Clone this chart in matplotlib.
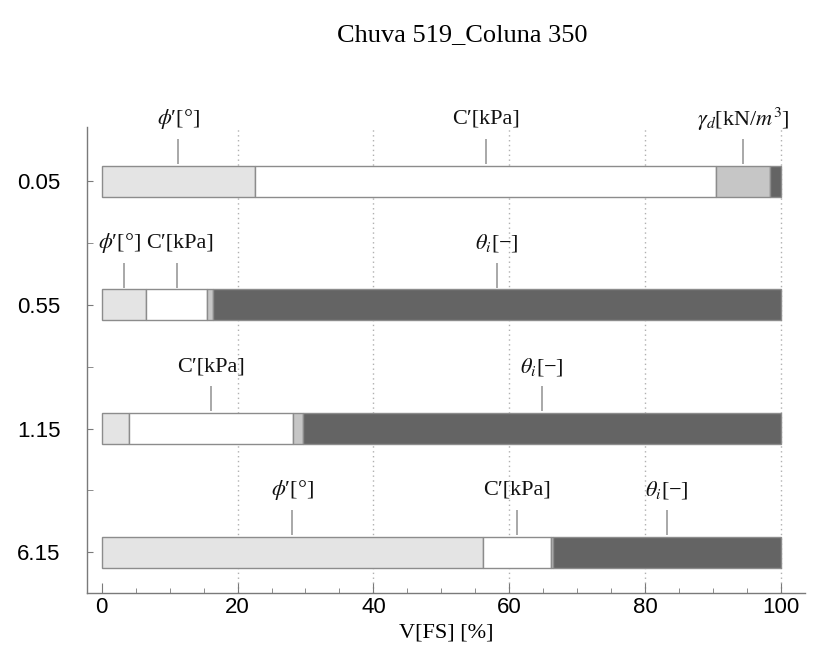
import numpy as np
import matplotlib
matplotlib.use("Agg")
import matplotlib.pyplot as plt
from matplotlib.ticker import MultipleLocator, FixedLocator

plt.rcParams["mathtext.fontset"] = "stix"

# ---- data (percent share of V[FS] per parameter) ----
depths = ["0.05", "0.55", "1.15", "6.15"]
phi_share = [22.6, 6.55, 4.05, 56.1]
coh_share = [67.9, 8.95, 24.15, 10.0]
gam_share = [7.9, 0.9, 1.5, 0.3]
theta_share = [1.6, 83.6, 70.3, 33.6]

seg_labels = [r"$\phi$′[°]", "C′[kPa]", r"$\gamma_d$[kN/$m^3$]", r"$\theta_i$[−]"]
seg_colors = ["#e4e4e4", "#ffffff", "#c6c6c6", "#646464"]
EDGE = "#8c8c8c"
LEAD = "#a8a8a8"
SERIF = "Liberation Serif"
SANS = "Liberation Sans"

fig = plt.figure(figsize=(8.34, 6.61), dpi=100)
ax = fig.add_axes([0.104, 0.103, 0.861, 0.705])

shares = np.array([phi_share, coh_share, gam_share, theta_share])  # (seg, row)
ypos = np.arange(len(depths))
bar_h = 0.25

# vertical dotted guides
for gx in [20, 40, 60, 80, 100]:
    ax.axvline(gx, color="#b0b0b0", lw=1.0, ls=(0, (1, 2.5)), zorder=0)

left = np.zeros(len(depths))
for k in range(shares.shape[0]):
    ax.barh(ypos, shares[k], left=left, height=bar_h, color=seg_colors[k],
            edgecolor=EDGE, linewidth=1.0, zorder=3)
    left = left + shares[k]

# segment labels with short leaders (only for wide enough segments)
nudge = {(1, 0): -0.6, (1, 1): 0.5}
left = np.zeros(len(depths))
for k in range(shares.shape[0]):
    for i in range(len(depths)):
        w = shares[k, i]
        if w > 5:
            xm = left[i] + w / 2
            ax.plot([xm, xm], [ypos[i] - 0.14, ypos[i] - 0.34], color=LEAD, lw=1.4,
                    zorder=2, solid_capstyle="butt")
            ax.text(xm + nudge.get((i, k), 0), ypos[i] - 0.50, seg_labels[k],
                    ha="center", va="center", fontsize=16, family=SERIF, color="#111111")
    left = left + shares[k]

ax.set_xlim(-2.2, 103.5)
ax.set_ylim(3.33, -0.44)
ax.set_yticks(ypos)
ax.set_yticklabels(depths, family=SANS, fontsize=16)
ax.yaxis.set_minor_locator(FixedLocator([0.5, 1.5, 2.5]))
ax.xaxis.set_major_locator(MultipleLocator(20))
ax.xaxis.set_minor_locator(MultipleLocator(5))
for lab in ax.get_xticklabels():
    lab.set_family(SANS)
    lab.set_fontsize(16)

for s in ["top", "right"]:
    ax.spines[s].set_visible(False)
for s in ["left", "bottom"]:
    ax.spines[s].set_color("#7a7a7a")
    ax.spines[s].set_linewidth(1.0)

ax.tick_params(axis="y", which="major", direction="in", length=4, color="#7a7a7a", pad=19)
ax.tick_params(axis="y", which="minor", direction="in", length=4, color="#7a7a7a")
ax.tick_params(axis="x", which="major", direction="in", length=7, color="#7a7a7a", pad=3)
ax.tick_params(axis="x", which="minor", direction="in", length=3.5, color="#7a7a7a")

ax.set_xlabel("V[FS] [%]", family=SERIF, fontsize=16, labelpad=4)
fig.text(0.554, 0.947, "Chuva 519_Coluna 350", ha="center", va="center",
         family=SERIF, fontsize=19)

fig.savefig("out.png", dpi=100, facecolor="white")
